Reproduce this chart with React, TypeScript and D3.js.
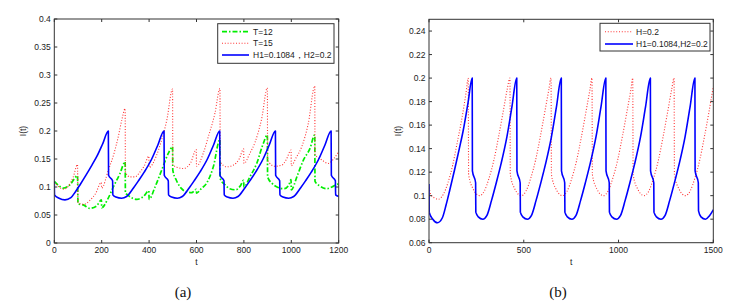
import * as d3 from "d3";

type Pt = [number, number];

// ---- panel (a) data ----
const greenT12: Pt[] = [
  [0, 0.11], [20, 0.102], [38, 0.098], [66, 0.104], [98, 0.12], [100, 0.07],
  [122, 0.068], [150, 0.062], [178, 0.066], [199, 0.077], [200, 0.063],
  [225, 0.078], [249, 0.1], [277, 0.124], [299, 0.145], [300, 0.09],
  [312, 0.085], [348, 0.078], [376, 0.083], [399, 0.093], [400, 0.078],
  [425, 0.1], [453, 0.13], [481, 0.16], [499, 0.172], [500, 0.13],
  [515, 0.112], [535, 0.098], [560, 0.091], [580, 0.09], [599, 0.096], [600, 0.089],
  [620, 0.097], [643, 0.107], [671, 0.136], [699, 0.185], [700, 0.115],
  [720, 0.104], [740, 0.097], [765, 0.095], [785, 0.102], [799, 0.112], [800, 0.1],
  [825, 0.118], [854, 0.142], [882, 0.178], [899, 0.193], [900, 0.118],
  [920, 0.106], [940, 0.1], [970, 0.097], [990, 0.104], [999, 0.113], [1000, 0.095],
  [1025, 0.12], [1051, 0.148], [1079, 0.169], [1099, 0.193], [1100, 0.11],
  [1120, 0.102], [1150, 0.097], [1180, 0.102], [1200, 0.106],
];

const redT15: Pt[] = [
  [0, 0.109], [20, 0.1], [40, 0.096], [60, 0.102], [80, 0.118], [98, 0.14],
  [100, 0.072], [125, 0.069], [150, 0.076], [175, 0.089], [198, 0.108], [200, 0.098],
  [228, 0.13], [252, 0.16], [270, 0.19], [285, 0.22], [299, 0.24], [300, 0.126],
  [320, 0.118], [340, 0.118], [360, 0.126], [380, 0.138], [399, 0.155], [400, 0.135],
  [430, 0.155], [450, 0.18], [475, 0.22], [499, 0.275], [500, 0.14],
  [520, 0.135], [545, 0.133], [575, 0.143], [599, 0.167], [600, 0.137],
  [630, 0.162], [650, 0.19], [678, 0.232], [699, 0.276], [700, 0.145],
  [727, 0.136], [755, 0.139], [780, 0.15], [799, 0.168], [800, 0.142],
  [825, 0.16], [847, 0.18], [875, 0.222], [899, 0.277], [900, 0.148],
  [930, 0.137], [960, 0.139], [980, 0.15], [999, 0.166], [1000, 0.138],
  [1020, 0.152], [1044, 0.172], [1072, 0.214], [1099, 0.28], [1100, 0.158],
  [1130, 0.148], [1156, 0.142], [1178, 0.15], [1200, 0.163],
];

const blueA: Pt[] = [
  [0, 0.11], [1, 0.086], [20, 0.08], [45, 0.077], [70, 0.081], [90, 0.092],
  [110, 0.105], [135, 0.122], [160, 0.14], [180, 0.155], [205, 0.178], [228, 0.2],
  [229, 0.121], [246, 0.111], [247, 0.086], [260, 0.082], [284, 0.08], [305, 0.083],
  [330, 0.096], [355, 0.111], [380, 0.127], [411, 0.15], [437, 0.175], [463, 0.2],
  [464, 0.121], [481, 0.111], [482, 0.086], [495, 0.082], [519, 0.08], [540, 0.083],
  [565, 0.096], [590, 0.111], [615, 0.127], [646, 0.15], [672, 0.175], [698, 0.2],
  [699, 0.121], [716, 0.111], [717, 0.086], [730, 0.082], [754, 0.08], [775, 0.083],
  [800, 0.096], [825, 0.111], [850, 0.127], [881, 0.15], [907, 0.175], [933, 0.2],
  [934, 0.121], [951, 0.111], [952, 0.086], [965, 0.082], [989, 0.08], [1010, 0.083],
  [1035, 0.096], [1060, 0.111], [1085, 0.127], [1116, 0.15], [1142, 0.175], [1168, 0.2],
  [1169, 0.121], [1186, 0.111], [1187, 0.086], [1200, 0.083],
];

// ---- panel (b) data ----
const redH: Pt[] = [
  [0, 0.107], [10, 0.101], [30, 0.098], [50, 0.097], [75, 0.101], [100, 0.111],
  [125, 0.126], [150, 0.146], [175, 0.167], [195, 0.187], [207, 0.2],
  [209, 0.118], [232, 0.106], [267, 0.1], [292, 0.104], [317, 0.115], [342, 0.13],
  [367, 0.15], [392, 0.172], [412, 0.19], [427, 0.2],
  [429, 0.118], [452, 0.106], [487, 0.1], [512, 0.104], [537, 0.115], [562, 0.13],
  [587, 0.15], [612, 0.172], [632, 0.19], [644, 0.2],
  [646, 0.118], [669, 0.106], [704, 0.1], [729, 0.104], [754, 0.115], [779, 0.13],
  [804, 0.15], [829, 0.172], [849, 0.19], [860, 0.2],
  [862, 0.118], [885, 0.106], [920, 0.1], [945, 0.104], [970, 0.115], [995, 0.13],
  [1020, 0.15], [1045, 0.172], [1065, 0.19], [1075, 0.2],
  [1077, 0.118], [1100, 0.106], [1135, 0.1], [1160, 0.104], [1185, 0.115], [1210, 0.13],
  [1235, 0.15], [1260, 0.172], [1280, 0.19], [1293, 0.2],
  [1295, 0.118], [1318, 0.106], [1353, 0.1], [1378, 0.104], [1403, 0.115], [1428, 0.13],
  [1453, 0.15], [1478, 0.172], [1500, 0.193],
];

const blueB: Pt[] = [
  ...blueA.slice(0, -1),
  [1200, 0.082], [1224, 0.08], [1245, 0.083], [1270, 0.096], [1295, 0.111],
  [1320, 0.127], [1351, 0.15], [1377, 0.175], [1403, 0.2],
  [1404, 0.121], [1421, 0.111], [1422, 0.087], [1435, 0.082], [1459, 0.08],
  [1480, 0.083], [1500, 0.088],
];

const yTicksA = [0, 0.05, 0.1, 0.15, 0.2, 0.25, 0.3, 0.35, 0.4];
const xTicksA = [0, 200, 400, 600, 800, 1000, 1200];
const yTicksB = [0.06, 0.08, 0.1, 0.12, 0.14, 0.16, 0.18, 0.2, 0.22, 0.24];
const xTicksB = [0, 500, 1000, 1500];

type Series = { data: Pt[]; color: string; width: number; dash?: string; label: string };

const FONT = "'Liberation Sans', Arial, sans-serif";

type PanelProps = {
  left: number; right: number; top: number; bottom: number;
  xDomain: [number, number]; yDomain: [number, number];
  xTicks: number[]; yTicks: number[];
  series: Series[];
  legend: { x0: number; x1: number; y0: number; y1: number; rows: number[]; lineX: [number, number]; textX: number };
  caption: string; captionX: number; yLabelX: number; id: string;
};

function Panel(p: PanelProps) {
  const x = d3.scaleLinear().domain(p.xDomain).range([p.left, p.right]);
  const y = d3.scaleLinear().domain(p.yDomain).range([p.bottom, p.top]);
  const line = d3.line<Pt>().x((d) => x(d[0])).y((d) => y(d[1])).curve(d3.curveMonotoneX);
  const tl = 3;
  const fmt = (v: number) => String(+v.toFixed(2));
  const lg = p.legend;
  return (
    <g>
      <defs>
        <clipPath id={p.id}>
          <rect x={p.left} y={p.top} width={p.right - p.left} height={p.bottom - p.top} />
        </clipPath>
      </defs>
      <g clipPath={`url(#${p.id})`}>
        {p.series.map((s, i) => (
          <path key={i} d={line(s.data) ?? ""} fill="none" stroke={s.color}
            strokeWidth={s.width} strokeDasharray={s.dash} strokeLinejoin="round" />
        ))}
      </g>
      <rect x={p.left} y={p.top} width={p.right - p.left} height={p.bottom - p.top}
        fill="none" stroke="#333" strokeWidth={1} />
      {p.xTicks.map((t) => (
        <g key={"x" + t}>
          <line x1={x(t)} x2={x(t)} y1={p.bottom} y2={p.bottom - tl} stroke="#333" />
          <line x1={x(t)} x2={x(t)} y1={p.top} y2={p.top + tl} stroke="#333" />
          <text x={x(t)} y={p.bottom + 10} textAnchor="middle" fontSize={8.5} fontFamily={FONT} fill="#222">{t}</text>
        </g>
      ))}
      {p.yTicks.map((t) => (
        <g key={"y" + t}>
          <line x1={p.left} x2={p.left + tl} y1={y(t)} y2={y(t)} stroke="#333" />
          <line x1={p.right} x2={p.right - tl} y1={y(t)} y2={y(t)} stroke="#333" />
          <text x={p.left - 3.5} y={y(t)} dy="0.35em" textAnchor="end" fontSize={8.5} fontFamily={FONT} fill="#222">{fmt(t)}</text>
        </g>
      ))}
      <text x={(p.left + p.right) / 2} y={265} textAnchor="middle" fontSize={8.5} fontFamily={FONT} fill="#222">t</text>
      <text transform={`translate(${p.yLabelX},${(p.top + p.bottom) / 2}) rotate(-90)`} textAnchor="middle" dy="0.35em"
        fontSize={8.5} fontFamily={FONT} fill="#222">I(t)</text>
      <rect x={lg.x0} y={lg.y0} width={lg.x1 - lg.x0} height={lg.y1 - lg.y0} fill="white" stroke="#333" strokeWidth={1} />
      {p.series.map((s, i) => (
        <g key={"l" + i}>
          <line x1={lg.lineX[0]} x2={lg.lineX[1]} y1={lg.rows[i]} y2={lg.rows[i]} stroke={s.color}
            strokeWidth={s.width} strokeDasharray={s.dash} />
          <text x={lg.textX} y={lg.rows[i]} dy="0.35em" fontSize={8.5} fontFamily={FONT} fill="#222">{s.label}</text>
        </g>
      ))}
      <text x={p.captionX} y={297} textAnchor="middle" fontSize={15}
        fontFamily="'Liberation Serif', 'DejaVu Serif', serif" fill="#111">{p.caption}</text>
    </g>
  );
}

export default function App() {
  const seriesA: Series[] = [
    { data: greenT12, color: "#00ee00", width: 1.7, dash: "5,2,1.5,2", label: "T=12" },
    { data: redT15, color: "#ff3333", width: 1.1, dash: "1,1.8", label: "T=15" },
    { data: blueA, color: "#0000ff", width: 1.6, label: "H1=0.1084，H2=0.2" },
  ];
  const seriesB: Series[] = [
    { data: redH, color: "#ff3333", width: 1.1, dash: "1,1.8", label: "H=0.2" },
    { data: blueB, color: "#0000ff", width: 1.6, label: "H1=0.1084,H2=0.2" },
  ];
  return (
    <svg width={748} height={306} style={{ position: "absolute", left: 0, top: 0, background: "white" }}>
      <rect width={748} height={306} fill="white" />
      <Panel id="ca" left={54.3} right={338.7} top={19} bottom={243}
        xDomain={[0, 1200]} yDomain={[0, 0.4]} xTicks={xTicksA} yTicks={yTicksA}
        series={seriesA}
        legend={{ x0: 217.7, x1: 334, y0: 23.7, y1: 63.3, rows: [31.7, 43.3, 55], lineX: [222, 249], textX: 253 }}
        caption="(a)" captionX={183} yLabelX={23.3} />
      <Panel id="cb" left={429} right={713.3} top={19.3} bottom={242.7}
        xDomain={[0, 1500]} yDomain={[0.06, 0.25]} xTicks={xTicksB} yTicks={yTicksB}
        series={seriesB}
        legend={{ x0: 600, x1: 710, y0: 23.3, y1: 51, rows: [31.7, 44], lineX: [605, 633], textX: 636 }}
        caption="(b)" captionX={558} yLabelX={398} />
    </svg>
  );
}
